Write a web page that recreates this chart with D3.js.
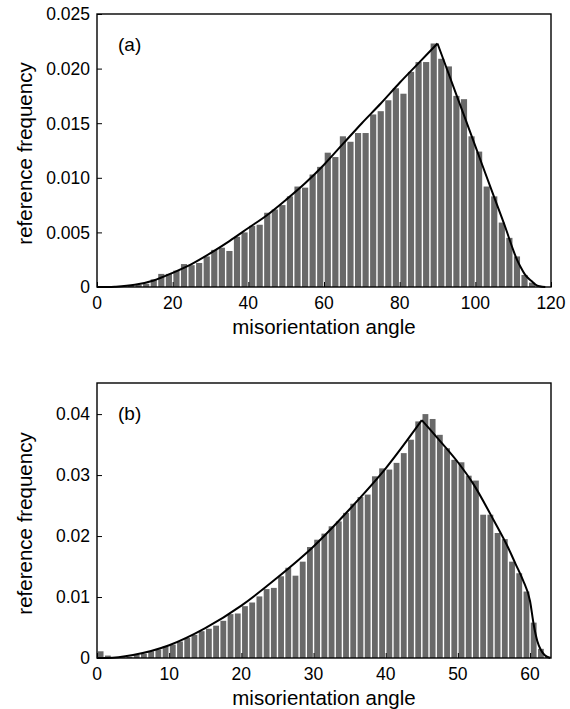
<!DOCTYPE html>
<html>
<head>
<meta charset="utf-8">
<script src="https://cdn.jsdelivr.net/npm/d3@7"></script>
<style>
    body { margin: 0; background: #fff; }
    text { font-family: "Liberation Sans", Arial, Helvetica, sans-serif; fill: #000; }
</style>
</head>
<body>
<script>
// Panel (a): 2 degree bins, 0..120
const binStartsA = d3.range(0, 120, 2);
const freqA = [
    0, 0, 0, 0.00005, 0.0001, 0.0002, 0.0003, 0.0007, 0.0012, 0.0012,
    0.0015, 0.0021, 0.0020, 0.0022, 0.0028, 0.0034, 0.0036, 0.0033, 0.0046, 0.0050,
    0.0056, 0.0057, 0.0068, 0.0071, 0.0075, 0.0083, 0.0092, 0.0091, 0.0103, 0.0110,
    0.0123, 0.0119, 0.0138, 0.0133, 0.0141, 0.0141, 0.0158, 0.0161, 0.0171, 0.0182,
    0.0177, 0.0197, 0.0206, 0.0206, 0.0223, 0.0209, 0.0202, 0.0175, 0.0172, 0.0138,
    0.0124, 0.0092, 0.0083, 0.0059, 0.0045, 0.0028, 0.0011, 0.0004, 0.0001, 0
];
const curveAnglesA = [0, 3, 5, 10, 15, 20, 25, 30, 35, 40, 45, 50, 55, 60, 65, 70, 75, 80, 85, 90,
    95, 100, 105, 108, 110, 111, 112, 113, 114, 115, 116, 117, 118.5];
const curveValuesA = [0, 0, 0.00003, 0.0002, 0.0006, 0.0013, 0.0021, 0.0031, 0.0042, 0.0054, 0.0066,
    0.0080, 0.0095, 0.0112, 0.0131, 0.0150, 0.0168, 0.0187, 0.0205, 0.0223,
    0.0176, 0.0129, 0.0082, 0.0054, 0.0034, 0.0025, 0.0018, 0.0012, 0.0008, 0.0005, 0.0002, 0.00007, 0];
const xTicksA = [0, 20, 40, 60, 80, 100, 120];
const yTicksA = [0, 0.005, 0.010, 0.015, 0.020, 0.025];
const yLabelsA = ["0", "0.005", "0.010", "0.015", "0.020", "0.025"];

// Panel (b): 1 degree bins, 0..63
const binStartsB = d3.range(0, 63, 1);
const freqB = [
    0.0011, 0.0004, 0.0001, 0.0001, 0.0002, 0.0005, 0.0007, 0.0011, 0.0014, 0.0019,
    0.0022, 0.0027, 0.0033, 0.0038, 0.0044, 0.0048, 0.0053, 0.0061, 0.0072, 0.0073,
    0.0085, 0.0091, 0.0101, 0.0113, 0.0115, 0.0134, 0.0148, 0.0135, 0.0158, 0.0182,
    0.0194, 0.0204, 0.0216, 0.0224, 0.0238, 0.0253, 0.0264, 0.0268, 0.0298, 0.0311,
    0.0309, 0.0320, 0.0336, 0.0358, 0.0388, 0.0400, 0.0392, 0.0366, 0.0344, 0.0325,
    0.0321, 0.0299, 0.0291, 0.0235, 0.0235, 0.0205, 0.0195, 0.0158, 0.0139, 0.0109,
    0.0058, 0.0015, 0.0002
];
const curveAnglesB = [0, 1.5, 5, 10, 15, 20, 25, 30, 35, 40, 45,
    47, 50, 52, 55, 57, 58, 59, 60, 60.5, 61, 61.5, 62, 62.8];
const curveValuesB = [0, 0, 0.0005, 0.0021, 0.0049, 0.0086, 0.0132, 0.0183, 0.0244, 0.0311, 0.0390,
    0.0363, 0.0321, 0.0288, 0.0225, 0.0180, 0.0154, 0.0128, 0.0093, 0.0055, 0.0028, 0.0013, 0.0005, 0];
const xTicksB = [0, 10, 20, 30, 40, 50, 60];
const yTicksB = [0, 0.01, 0.02, 0.03, 0.04];
const yLabelsB = ["0", "0.01", "0.02", "0.03", "0.04"];

const width = 570;
const height = 709;

const svg = d3.select('body').append('svg')
    .attr('width', width)
    .attr('height', height);

function drawPanel(p) {
    const x = d3.scaleLinear().domain(p.xDomain).range([p.left, p.right]);
    const y = d3.scaleLinear().domain(p.yDomain).range([p.bottom, p.top]);
    const g = svg.append('g');

    // bars
    g.selectAll('rect.bar')
        .data(p.bins.map((s, i) => ({ s: s, v: p.values[i] })))
        .enter()
        .append('rect')
        .attr('class', 'bar')
        .attr('x', d => x(d.s) + 0.7)
        .attr('width', d => Math.max(0, x(d.s + p.binWidth) - x(d.s) - 1.4))
        .attr('y', d => y(d.v))
        .attr('height', d => y(0) - y(d.v))
        .attr('fill', '#696969');

    // fitted curve, split at the peak so it stays sharp
    const pts = p.curveX.map((a, i) => [a, p.curveY[i]]);
    const peak = d3.maxIndex(pts, d => d[1]);
    const line = d3.line().x(d => x(d[0])).y(d => y(d[1])).curve(d3.curveMonotoneX);
    [pts.slice(0, peak + 1), pts.slice(peak)].forEach(seg => {
        g.append('path')
            .attr('d', line(seg))
            .attr('fill', 'none')
            .attr('stroke', '#000')
            .attr('stroke-width', 2);
    });

    // inward ticks
    g.append('g')
        .attr('transform', `translate(0,${p.bottom})`)
        .call(d3.axisBottom(x).tickValues(p.xTicks).tickSize(-5).tickFormat(''))
        .call(a => a.select('.domain').remove());
    g.append('g')
        .attr('transform', `translate(${p.left},0)`)
        .call(d3.axisLeft(y).tickValues(p.yTicks).tickSize(-5).tickFormat(''))
        .call(a => a.select('.domain').remove());

    // frame
    g.append('rect')
        .attr('x', p.left).attr('y', p.top)
        .attr('width', p.right - p.left).attr('height', p.bottom - p.top)
        .attr('fill', 'none').attr('stroke', '#000').attr('stroke-width', 1.4);

    // tick labels
    g.selectAll('text.xl')
        .data(p.xTicks)
        .enter().append('text')
        .attr('x', d => x(d)).attr('y', p.bottom + 22)
        .attr('text-anchor', 'middle')
        .style('font-size', '17.5px')
        .text(d => d);
    g.selectAll('text.yl')
        .data(p.yTicks)
        .enter().append('text')
        .attr('x', p.left - 7).attr('y', d => y(d))
        .attr('dy', '0.36em')
        .attr('text-anchor', 'end')
        .style('font-size', '17.5px')
        .text((d, i) => p.yLabels[i]);

    // titles
    g.append('text')
        .attr('x', (p.left + p.right) / 2).attr('y', p.bottom + 47)
        .attr('text-anchor', 'middle')
        .style('font-size', '20.5px')
        .text('misorientation angle');
    g.append('text')
        .attr('transform', `translate(32,${(p.top + p.bottom) / 2 + 3}) rotate(-90)`)
        .attr('text-anchor', 'middle')
        .style('font-size', '20.5px')
        .text('reference frequency');
    g.append('text')
        .attr('x', p.left + 21).attr('y', p.top + 37)
        .style('font-size', '19px')
        .text(p.label);
}

drawPanel({
    left: 97, right: 551, top: 14, bottom: 287,
    xDomain: [0, 120], yDomain: [0, 0.025],
    bins: binStartsA, binWidth: 2, values: freqA,
    curveX: curveAnglesA, curveY: curveValuesA,
    xTicks: xTicksA, yTicks: yTicksA, yLabels: yLabelsA, label: '(a)'
});

drawPanel({
    left: 97, right: 551, top: 383, bottom: 658,
    xDomain: [0, 62.9], yDomain: [0, 0.0451],
    bins: binStartsB, binWidth: 1, values: freqB,
    curveX: curveAnglesB, curveY: curveValuesB,
    xTicks: xTicksB, yTicks: yTicksB, yLabels: yLabelsB, label: '(b)'
});
</script>
</body>
</html>
